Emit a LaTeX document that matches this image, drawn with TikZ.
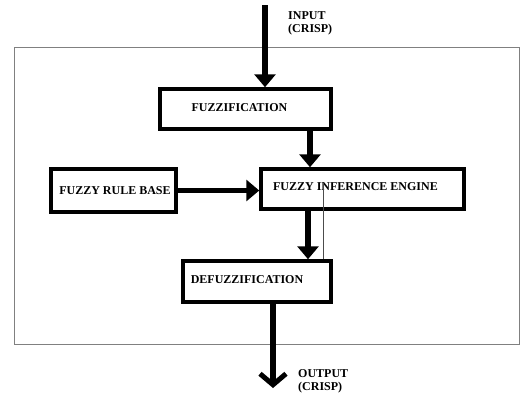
\documentclass[tikz,border=0pt]{standalone}
\usepackage{fontspec}
\setmainfont{Liberation Serif}
\usetikzlibrary{arrows.meta}
\begin{document}
\begin{tikzpicture}[x=1pt,y=-1pt,
  box/.style={draw=black,line width=3.5pt,minimum width=#1,inner sep=0pt},
  lbl/.style={font=\fontsize{12}{13.5}\selectfont\bfseries,text=black,inner sep=0pt,align=left},
  arr/.style={line width=5.5pt,-{Triangle[length=13pt,width=21pt]}},
  outarr/.style={line width=5.5pt,-{Straight Barb[length=11pt,width=26pt,line width=5pt]}},
  frame/.style={draw=black!50,line width=1pt}]
\useasboundingbox (0,0) rectangle (520,400);
\fill[white] (0,0) rectangle (520,400);
\draw[frame] (14,47) rectangle (519,344);
% boxes
\node[box=171pt,minimum height=40pt] (fuzz) at (245.5,109) {};
\node[lbl] (fuzzt) at (239.5,108) {FUZZIFICATION};
\node[box=203pt,minimum height=40pt] (infer) at (362.5,189) {};
\node[lbl] (infert) at (355.5,187) {FUZZY INFERENCE ENGINE};
\node[box=125pt,minimum height=43pt] (rule) at (113.5,190.5) {};
\node[lbl] (rulet) at (115,191) {FUZZY RULE BASE};
\node[box=148pt,minimum height=41pt] (defuzz) at (257,281.5) {};
\node[lbl] (defuzzt) at (247,280) {DEFUZZIFICATION};
% labels
\node[lbl,anchor=north west] (inl) at (288,11) {INPUT\\(CRISP)};
\node[lbl,anchor=north west] (outl) at (298,369) {OUTPUT\\(CRISP)};
% connectors
\coordinate (inp) at (265,5);
\coordinate (c1) at (310,0);
\coordinate (c2) at (308,0);
\coordinate (outp) at (273,388);
\coordinate (t1) at (323,183);
\draw[arr] (inp) -- (inp |- fuzz.north);
\draw[arr] (fuzz.south -| c1) -- (infer.north -| c1);
\draw[arr] (rule.east) -- (rule.east -| infer.west);
\draw[arr] (infer.south -| c2) -- (defuzz.north -| c2);
\draw[outarr] (defuzz.south -| outp) -- (outp);
\draw[line width=0.6pt,black!70] (t1) -- (t1 |- defuzz.north);
\end{tikzpicture}
\end{document}
